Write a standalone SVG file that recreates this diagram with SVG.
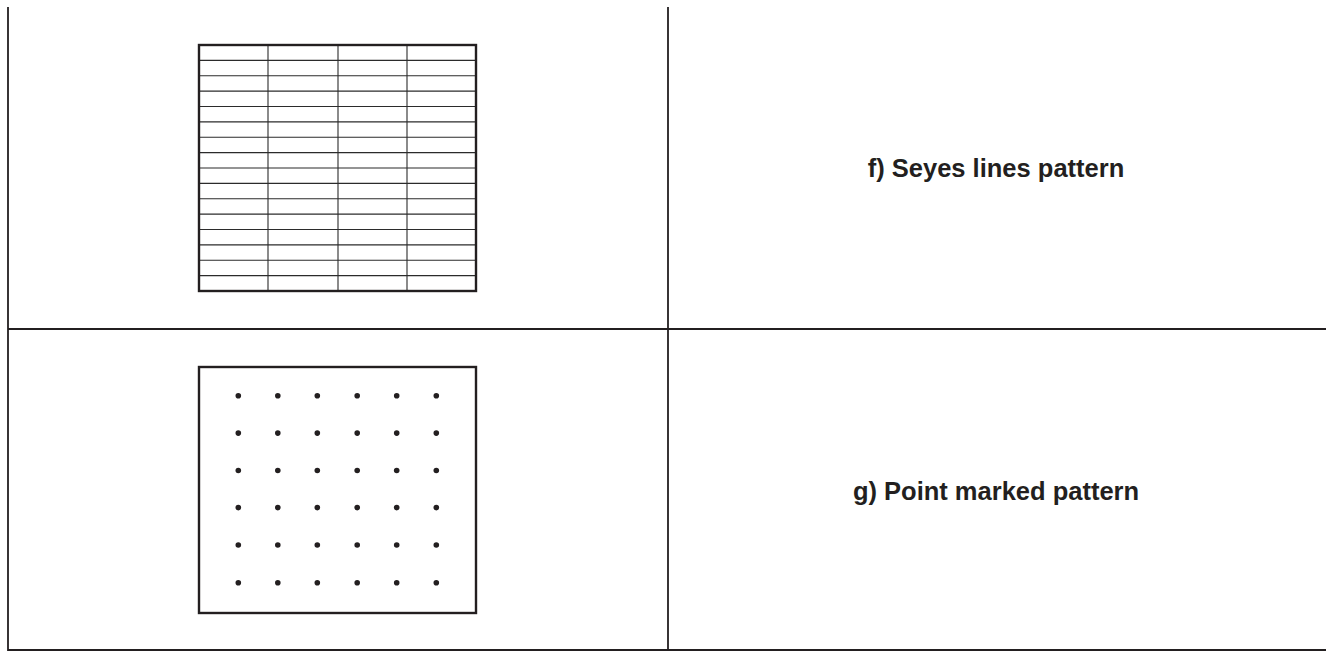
<svg xmlns="http://www.w3.org/2000/svg" width="1326" height="651" viewBox="0 0 1326 651">
<style>
.rule{stroke:#231f20;stroke-width:1.8;fill:none}
.border{stroke:#231f20;stroke-width:2.4;fill:none}
.thin{stroke:#2b2b2b;stroke-width:1.1;fill:none}
.dot{fill:#231f20}
.label{font-family:"Liberation Sans",Arial,sans-serif;font-weight:bold;font-size:25.5px;fill:#231f20;text-anchor:middle}
</style>
<rect width="1326" height="651" fill="#ffffff"/>
<g id="frame">
<line class="rule" x1="8" y1="7" x2="8" y2="651"/>
<line class="rule" x1="668" y1="7" x2="668" y2="651"/>
<line class="rule" x1="8" y1="329" x2="1326" y2="329"/>
<line class="rule" x1="8" y1="650" x2="1326" y2="650"/>
</g>
<g id="seyes-grid">
<g class="thin">
<line x1="268" y1="45" x2="268" y2="291"/>
<line x1="338" y1="45" x2="338" y2="291"/>
<line x1="407" y1="45" x2="407" y2="291"/>
<line x1="199" y1="60.4" x2="476" y2="60.4"/>
<line x1="199" y1="75.8" x2="476" y2="75.8"/>
<line x1="199" y1="91.1" x2="476" y2="91.1"/>
<line x1="199" y1="106.5" x2="476" y2="106.5"/>
<line x1="199" y1="121.9" x2="476" y2="121.9"/>
<line x1="199" y1="137.3" x2="476" y2="137.3"/>
<line x1="199" y1="152.6" x2="476" y2="152.6"/>
<line x1="199" y1="168" x2="476" y2="168"/>
<line x1="199" y1="183.4" x2="476" y2="183.4"/>
<line x1="199" y1="198.8" x2="476" y2="198.8"/>
<line x1="199" y1="214.1" x2="476" y2="214.1"/>
<line x1="199" y1="229.5" x2="476" y2="229.5"/>
<line x1="199" y1="244.9" x2="476" y2="244.9"/>
<line x1="199" y1="260.3" x2="476" y2="260.3"/>
<line x1="199" y1="275.6" x2="476" y2="275.6"/>
</g>
<rect class="border" x="199" y="45" width="277" height="246"/>
</g>
<g id="label-f">
<text class="label" x="996" y="177">f) Seyes lines pattern</text>
</g>
<g id="point-grid">
<rect class="border" x="199" y="367" width="277" height="246"/>
<g class="dot">
<circle cx="238.3" cy="395.7" r="2.8"/><circle cx="277.8" cy="395.7" r="2.8"/><circle cx="317.3" cy="395.7" r="2.8"/><circle cx="357.2" cy="395.7" r="2.8"/><circle cx="396.7" cy="395.7" r="2.8"/><circle cx="436.3" cy="395.7" r="2.8"/>
<circle cx="238.3" cy="433.1" r="2.8"/><circle cx="277.8" cy="433.1" r="2.8"/><circle cx="317.3" cy="433.1" r="2.8"/><circle cx="357.2" cy="433.1" r="2.8"/><circle cx="396.7" cy="433.1" r="2.8"/><circle cx="436.3" cy="433.1" r="2.8"/>
<circle cx="238.3" cy="470.5" r="2.8"/><circle cx="277.8" cy="470.5" r="2.8"/><circle cx="317.3" cy="470.5" r="2.8"/><circle cx="357.2" cy="470.5" r="2.8"/><circle cx="396.7" cy="470.5" r="2.8"/><circle cx="436.3" cy="470.5" r="2.8"/>
<circle cx="238.3" cy="507.6" r="2.8"/><circle cx="277.8" cy="507.6" r="2.8"/><circle cx="317.3" cy="507.6" r="2.8"/><circle cx="357.2" cy="507.6" r="2.8"/><circle cx="396.7" cy="507.6" r="2.8"/><circle cx="436.3" cy="507.6" r="2.8"/>
<circle cx="238.3" cy="545" r="2.8"/><circle cx="277.8" cy="545" r="2.8"/><circle cx="317.3" cy="545" r="2.8"/><circle cx="357.2" cy="545" r="2.8"/><circle cx="396.7" cy="545" r="2.8"/><circle cx="436.3" cy="545" r="2.8"/>
<circle cx="238.3" cy="582.7" r="2.8"/><circle cx="277.8" cy="582.7" r="2.8"/><circle cx="317.3" cy="582.7" r="2.8"/><circle cx="357.2" cy="582.7" r="2.8"/><circle cx="396.7" cy="582.7" r="2.8"/><circle cx="436.3" cy="582.7" r="2.8"/>
</g>
</g>
<g id="label-g">
<text class="label" x="996" y="500">g) Point marked pattern</text>
</g>
<g id="connectors"/>
</svg>
